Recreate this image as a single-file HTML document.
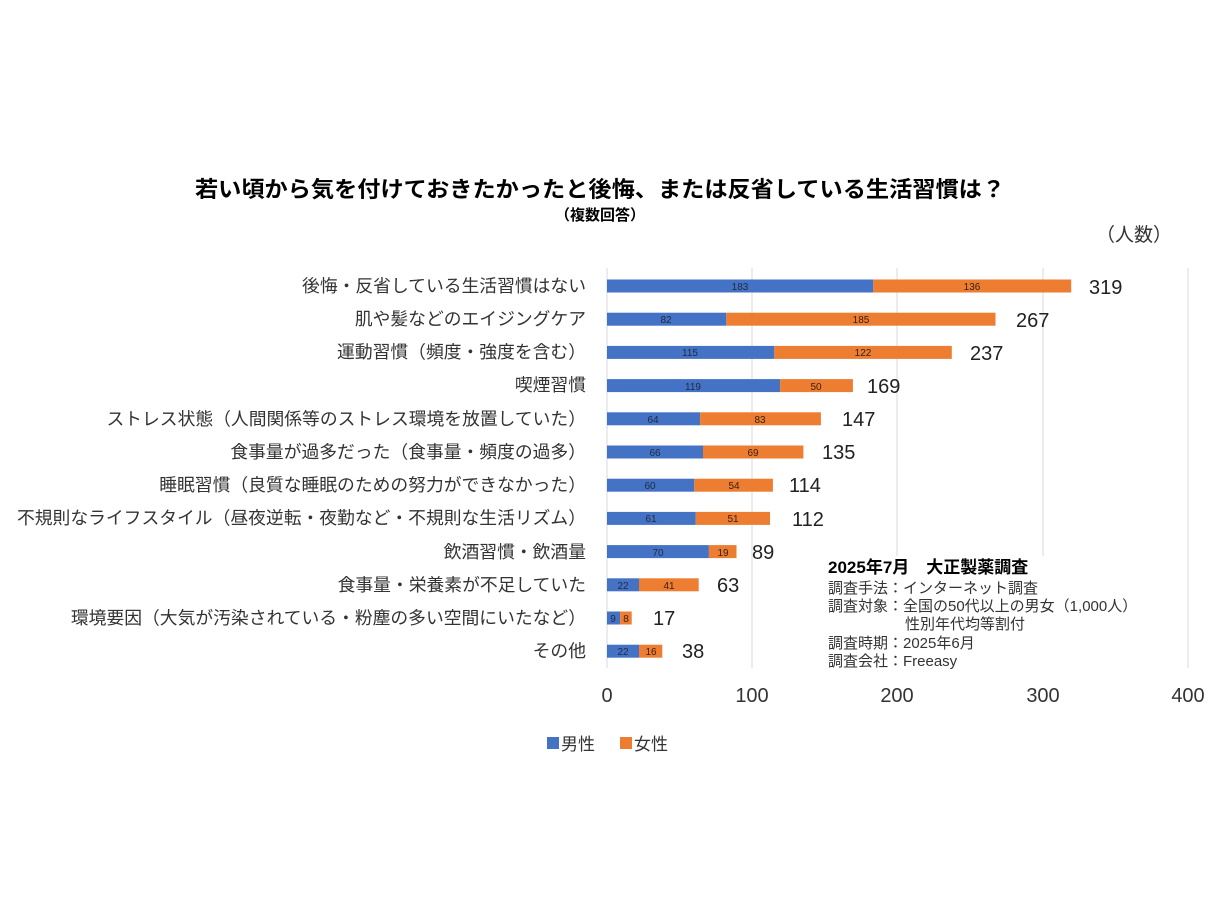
<!DOCTYPE html>
<html><head><meta charset="utf-8"><style>
body{margin:0;background:#fff}
svg text{font-family:"Liberation Sans","Noto Sans CJK JP",sans-serif}
</style></head><body>
<svg width="1223" height="917" xmlns="http://www.w3.org/2000/svg">
<rect width="1223" height="917" fill="#fff"/>
<text x="195" y="197" font-size="22" font-weight="bold" fill="#000" textLength="810" lengthAdjust="spacingAndGlyphs">若い頃から気を付けておきたかったと後悔、または反省している生活習慣は？</text>
<text x="600" y="220" text-anchor="middle" font-size="15" font-weight="bold" fill="#000">（複数回答）</text>
<text x="1172" y="241" text-anchor="end" font-size="19" fill="#333">（人数）</text>
<g stroke="#d9d9d9" stroke-width="1">
<line x1="752" y1="268" x2="752" y2="668"/><line x1="897" y1="268" x2="897" y2="668"/><line x1="1043" y1="268" x2="1043" y2="668"/><line x1="1188" y1="268" x2="1188" y2="668"/><line x1="607" y1="268" x2="607" y2="668"/>
</g>
<g font-size="17.8" fill="#333" text-anchor="end">
<text x="586" y="292">後悔・反省している生活習慣はない</text>
<text x="586" y="325">肌や髪などのエイジングケア</text>
<text x="586" y="358">運動習慣（頻度・強度を含む）</text>
<text x="586" y="391">喫煙習慣</text>
<text x="586" y="425">ストレス状態（人間関係等のストレス環境を放置していた）</text>
<text x="586" y="458">食事量が過多だった（食事量・頻度の過多）</text>
<text x="586" y="491">睡眠習慣（良質な睡眠のための努力ができなかった）</text>
<text x="586" y="524">不規則なライフスタイル（昼夜逆転・夜勤など・不規則な生活リズム）</text>
<text x="586" y="558">飲酒習慣・飲酒量</text>
<text x="586" y="591">食事量・栄養素が不足していた</text>
<text x="586" y="624">環境要因（大気が汚染されている・粉塵の多い空間にいたなど）</text>
<text x="586" y="657">その他</text>
</g>
<g fill="#4472c4">
<rect x="607" y="279.5" width="266.3" height="13"/>
<rect x="607" y="312.7" width="119.3" height="13"/>
<rect x="607" y="345.9" width="167.3" height="13"/>
<rect x="607" y="379.1" width="173.1" height="13"/>
<rect x="607" y="412.3" width="93.1" height="13"/>
<rect x="607" y="445.5" width="96.0" height="13"/>
<rect x="607" y="478.7" width="87.3" height="13"/>
<rect x="607" y="511.9" width="88.8" height="13"/>
<rect x="607" y="545.1" width="101.9" height="13"/>
<rect x="607" y="578.3" width="32.0" height="13"/>
<rect x="607" y="611.5" width="13.1" height="13"/>
<rect x="607" y="644.7" width="32.0" height="13"/>
</g>
<g fill="#ed7d31">
<rect x="873.3" y="279.5" width="197.9" height="13"/>
<rect x="726.3" y="312.7" width="269.2" height="13"/>
<rect x="774.3" y="345.9" width="177.5" height="13"/>
<rect x="780.1" y="379.1" width="72.8" height="13"/>
<rect x="700.1" y="412.3" width="120.8" height="13"/>
<rect x="703.0" y="445.5" width="100.4" height="13"/>
<rect x="694.3" y="478.7" width="78.6" height="13"/>
<rect x="695.8" y="511.9" width="74.2" height="13"/>
<rect x="708.9" y="545.1" width="27.6" height="13"/>
<rect x="639.0" y="578.3" width="59.7" height="13"/>
<rect x="620.1" y="611.5" width="11.6" height="13"/>
<rect x="639.0" y="644.7" width="23.3" height="13"/>
</g>
<g font-size="10" fill="#1f2a44" text-anchor="middle">
<text x="740" y="290">183</text><text x="666" y="323">82</text><text x="690" y="356">115</text><text x="693" y="390">119</text><text x="653" y="423">64</text><text x="655" y="456">66</text><text x="650" y="489">60</text><text x="651" y="522">61</text><text x="658" y="556">70</text><text x="623" y="589">22</text><text x="613" y="622">9</text><text x="623" y="655">22</text>
</g>
<g font-size="10" fill="#3a2010" text-anchor="middle">
<text x="972" y="290">136</text><text x="861" y="323">185</text><text x="863" y="356">122</text><text x="816" y="390">50</text><text x="760" y="423">83</text><text x="753" y="456">69</text><text x="734" y="489">54</text><text x="733" y="522">51</text><text x="723" y="556">19</text><text x="669" y="589">41</text><text x="626" y="622">8</text><text x="651" y="655">16</text>
</g>
<g font-size="20" fill="#222">
<text x="1089" y="294">319</text><text x="1016" y="327">267</text><text x="970" y="360">237</text><text x="867" y="393">169</text><text x="842" y="426">147</text><text x="822" y="459">135</text><text x="789" y="492">114</text><text x="792" y="526">112</text><text x="752" y="559">89</text><text x="717" y="592">63</text><text x="653" y="625">17</text><text x="682" y="658">38</text>
</g>
<rect x="822" y="556" width="320" height="112" fill="#fff"/>
<text x="828" y="573" font-size="17" font-weight="bold" fill="#000">2025年7月　大正製薬調査</text>
<g font-size="15" fill="#333">
<text x="828" y="593">調査手法：インターネット調査</text>
<text x="828" y="611">調査対象：全国の50代以上の男女（1,000人）</text>
<text x="905" y="629">性別年代均等割付</text>
<text x="828" y="648">調査時期：2025年6月</text>
<text x="828" y="666">調査会社：Freeasy</text>
</g>
<g font-size="20" fill="#333" text-anchor="middle">
<text x="607" y="702">0</text><text x="752" y="702">100</text><text x="897" y="702">200</text><text x="1043" y="702">300</text><text x="1188" y="702">400</text>
</g>
<rect x="547" y="737" width="12" height="12" fill="#4472c4"/>
<text x="561" y="750" font-size="17" fill="#333">男性</text>
<rect x="620" y="737" width="12" height="12" fill="#ed7d31"/>
<text x="634" y="750" font-size="17" fill="#333">女性</text>
</svg>
</body></html>
